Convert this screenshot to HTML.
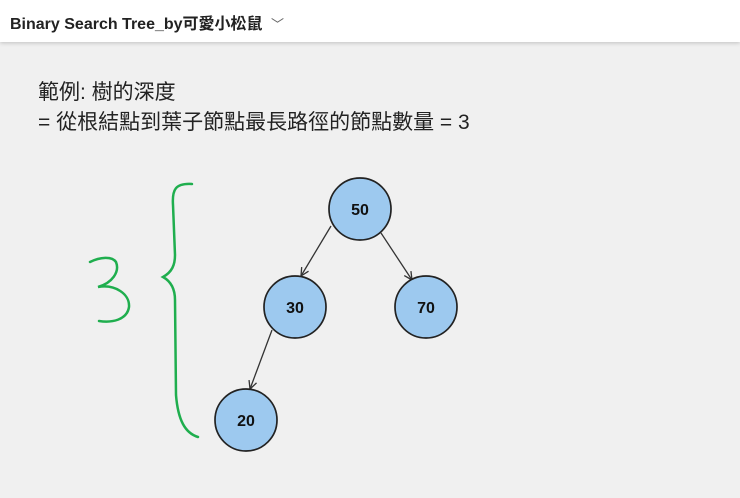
<!DOCTYPE html>
<html><head><meta charset="utf-8"><style>
body{margin:0;width:740px;height:498px;background:#f0f0f0;overflow:hidden;font-family:"Liberation Sans","Noto Sans CJK TC",sans-serif;}
.hdr{position:absolute;left:0;top:0;width:740px;height:42px;background:#fff;box-shadow:0 1px 4px rgba(0,0,0,0.2);}
.hdr span{position:absolute;left:10px;top:10px;font-size:16px;font-weight:bold;color:#222;}
.t{position:absolute;left:38px;font-size:21px;color:#222;white-space:nowrap;}
</style></head><body>
<div class="hdr"><span>Binary Search Tree_by可愛小松鼠 <span style="position:static;font-weight:normal;color:#666;font-size:13px;margin-left:4px">﹀</span></span></div>
<div class="t" style="top:76px">範例: 樹的深度</div>
<div class="t" style="top:106px">= 從根結點到葉子節點最長路徑的節點數量 = 3</div>
<svg width="740" height="498" style="position:absolute;left:0;top:0">
<defs><marker id="a" markerWidth="10" markerHeight="10" refX="9" refY="5" orient="auto" markerUnits="userSpaceOnUse"><path d="M1,1 L9,5 L1,9" fill="none" stroke="#333" stroke-width="1.3"/></marker></defs>
<g stroke="#333" stroke-width="1.3" fill="none">
<line x1="331" y1="226" x2="301" y2="276" marker-end="url(#a)"/>
<line x1="381" y1="233" x2="412" y2="280" marker-end="url(#a)"/>
<line x1="272" y1="330" x2="250" y2="389" marker-end="url(#a)"/>
</g>
<g fill="#9dc9ef" stroke="#222" stroke-width="1.7">
<circle cx="360" cy="209" r="31"/><circle cx="295" cy="307" r="31"/>
<circle cx="426" cy="307" r="31"/><circle cx="246" cy="420" r="31"/>
</g>
<g font-family="Liberation Sans" font-weight="bold" font-size="16" text-anchor="middle" fill="#111">
<text x="360" y="215">50</text><text x="295" y="313">30</text><text x="426" y="313">70</text><text x="246" y="426">20</text>
</g>
<g stroke="#1fae4e" stroke-width="2.5" fill="none" stroke-linecap="round">
<path d="M192,184 C175,183 172,190 173,205 L175,255 C175,265 172,272 163,277 C172,282 175,290 175,300 L176,395 C178,420 185,433 198,437"/>
<path d="M90,262 C100,257 112,256 116,262 C120,272 112,283 98,287 C115,284 130,294 129,307 C127,320 112,323 99,321"/>
</g>
</svg>
</body></html>
